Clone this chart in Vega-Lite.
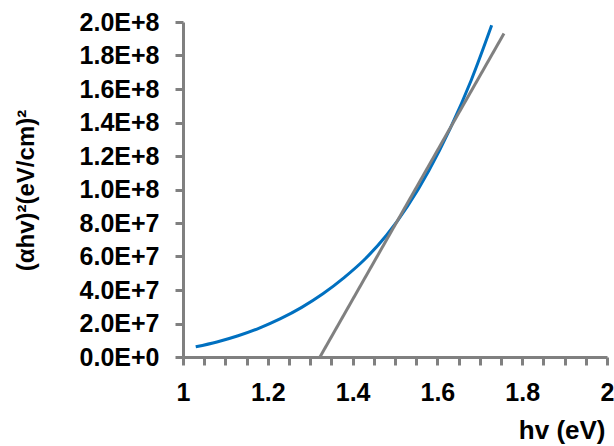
{
  "$schema": "https://vega.github.io/schema/vega-lite/v6.json",
  "width": 424,
  "height": 335,
  "autosize": "none",
  "padding": {"left": 183, "top": 22, "right": 7, "bottom": 89},
  "config": {
    "view": {"stroke": null},
    "font": "Liberation Sans",
    "axis": {
      "grid": false,
      "domainColor": "#808080",
      "domainWidth": 3,
      "tickColor": "#808080",
      "tickWidth": 3,
      "tickSize": 8,
      "labelFont": "Liberation Sans",
      "labelFontWeight": "bold",
      "labelFontSize": 25,
      "labelColor": "#000000",
      "labelOverlap": false,
      "labelFlush": false,
      "titleFont": "Liberation Sans",
      "titleFontWeight": "bold",
      "titleFontSize": 24,
      "titleColor": "#000000"
    }
  },
  "datasets": {
    "absorption": [
      {"hv": 1.03, "ahv2": 6100000},
      {"hv": 1.08, "ahv2": 9000000},
      {"hv": 1.13, "ahv2": 12700000},
      {"hv": 1.18, "ahv2": 17300000},
      {"hv": 1.23, "ahv2": 22900000},
      {"hv": 1.28, "ahv2": 29650000},
      {"hv": 1.33, "ahv2": 37750000},
      {"hv": 1.38, "ahv2": 47400000},
      {"hv": 1.43, "ahv2": 58650000},
      {"hv": 1.48, "ahv2": 72650000},
      {"hv": 1.53, "ahv2": 90150000},
      {"hv": 1.58, "ahv2": 111400000},
      {"hv": 1.63, "ahv2": 136400000},
      {"hv": 1.68, "ahv2": 165400000},
      {"hv": 1.728, "ahv2": 198000000}
    ],
    "tangent": [
      {"hv": 1.323, "ahv2": 0},
      {"hv": 1.757, "ahv2": 193200000}
    ]
  },
  "encoding": {
    "x": {
      "field": "hv",
      "type": "quantitative",
      "scale": {"domain": [1, 2], "nice": false, "zero": false},
      "axis": {
        "title": "hv (eV)",
        "titleFontSize": 26,
        "titleX": 422,
        "titleY": 73,
        "titleAlign": "right",
        "titleBaseline": "middle",
        "titleAnchor": null,
        "values": [1, 1.05, 1.1, 1.15, 1.2, 1.25, 1.3, 1.35, 1.4, 1.45, 1.5, 1.55, 1.6, 1.65, 1.7, 1.75, 1.8, 1.85, 1.9, 1.95, 2],
        "format": "~g",
        "labelExpr": "abs(datum.value * 5 - round(datum.value * 5)) < 0.000001 ? datum.label : ''",
        "labelPadding": 15
      }
    },
    "y": {
      "field": "ahv2",
      "type": "quantitative",
      "scale": {"domain": [0, 200000000], "nice": false},
      "axis": {
        "title": "(αhv)²(eV/cm)²",
        "titleX": -157,
        "titleY": 168,
        "titleAngle": -90,
        "titleAlign": "center",
        "titleBaseline": "middle",
        "values": [0, 20000000, 40000000, 60000000, 80000000, 100000000, 120000000, 140000000, 160000000, 180000000, 200000000],
        "labelExpr": "replace(format(datum.value, '.1e'), 'e', 'E')",
        "labelPadding": 16
      }
    }
  },
  "layer": [
    {
      "data": {"name": "absorption"},
      "mark": {"type": "line", "color": "#0070C0", "strokeWidth": 3, "interpolate": "monotone"}
    },
    {
      "data": {"name": "tangent"},
      "mark": {"type": "line", "color": "#808080", "strokeWidth": 3}
    }
  ]
}
